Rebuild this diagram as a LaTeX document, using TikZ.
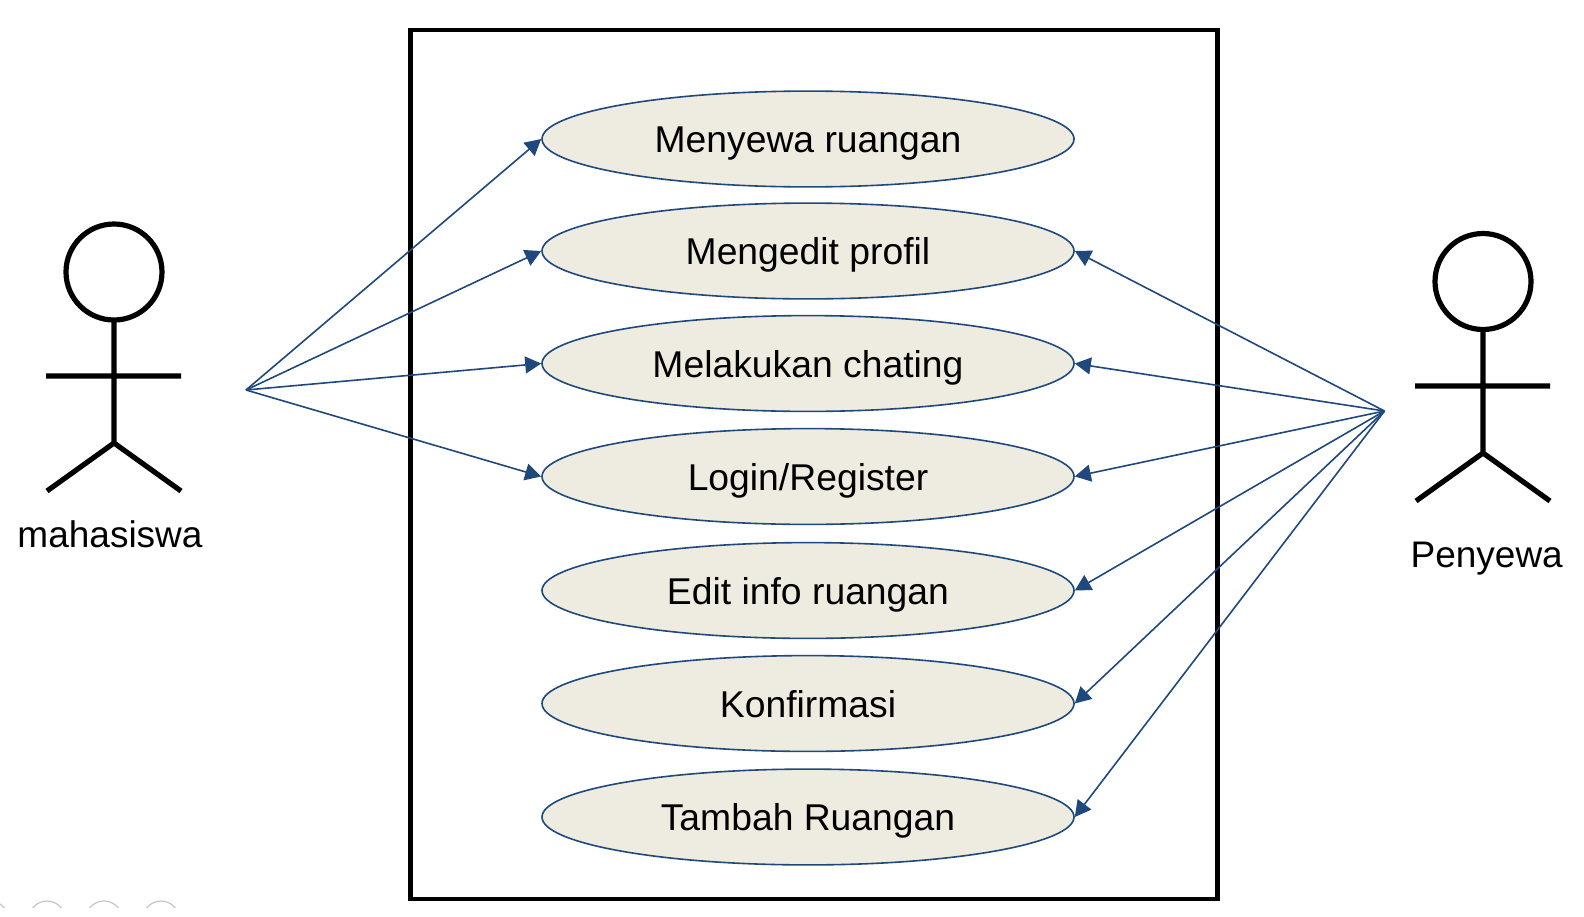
\documentclass[tikz,border=0pt]{standalone}
\usepackage{fontspec}
\setmainfont{Liberation Sans}
\usetikzlibrary{shapes.geometric,arrows.meta}
\definecolor{linkblue}{HTML}{1F497D}
\definecolor{usefill}{HTML}{EEECE1}
\tikzset{
  usecase/.style={ellipse,draw=linkblue,fill=usefill,line width=0.8pt,minimum width=266pt,minimum height=47.9pt,inner sep=0pt,text height=13.7pt,text depth=0pt,font=\fontsize{18.65pt}{22pt}\selectfont},
  link/.style={draw=linkblue,line width=0.8pt,-{Triangle[length=8pt,width=8.5pt]}},
  stick/.style={draw=black,line width=2.6pt},
  actorlabel/.style={font=\fontsize{18.5pt}{22pt}\selectfont,inner sep=0pt,anchor=base},
  frameline/.style={draw=black,line width=2.3pt}
}
\begin{document}
\begin{tikzpicture}[x=0.5pt,y=-0.5pt]
\useasboundingbox (0,0) rectangle (1584,916);
\fill[white] (0,0) rectangle (1584,916);
% left-over arcs at the bottom edge
\begin{scope}
\clip (0,880) rectangle (1584,907);
\foreach \cx in {-10,47,104,161}{\draw[gray!45,line width=0.6pt] (\cx,919) circle[radius=18];}
\end{scope}
\draw[frameline] (410.5,30) rectangle (1217.5,899);
\node[usecase] (u1) at (808,139) {Menyewa ruangan};
\node[usecase] (u2) at (808,251) {Mengedit profil};
\node[usecase] (u3) at (808,363.5) {Melakukan chating};
\node[usecase] (u4) at (808,476.5) {Login/Register};
\node[usecase] (u5) at (808,590.5) {Edit info ruangan};
\node[usecase] (u6) at (808,703.5) {Konfirmasi};
\node[usecase] (u7) at (808,817) {Tambah Ruangan};
\coordinate (hl) at (246,390);
\coordinate (hr) at (1384.5,411);
\foreach \u in {u1,u2,u3,u4}{\draw[link] (hl) -- (\u.west);}
\foreach \u in {u2,u3,u4,u5,u6,u7}{\draw[link] (hr) -- (\u.east);}
% left actor
\draw[stick] (114,272) circle[radius=48];
\draw[stick] (114,320) -- (114,443) (46,376) -- (181,376) (47,491) -- (114,443) -- (181,491);
\node[actorlabel] (al) at (110,547.5) {mahasiswa};
% right actor
\draw[stick] (1483,281.5) circle[radius=48];
\draw[stick] (1483,330) -- (1483,453) (1415,386) -- (1550,386) (1416,501) -- (1483,453) -- (1550,501);
\node[actorlabel] (ar) at (1486.7,567.7) {Penyewa};
\end{tikzpicture}
\end{document}
